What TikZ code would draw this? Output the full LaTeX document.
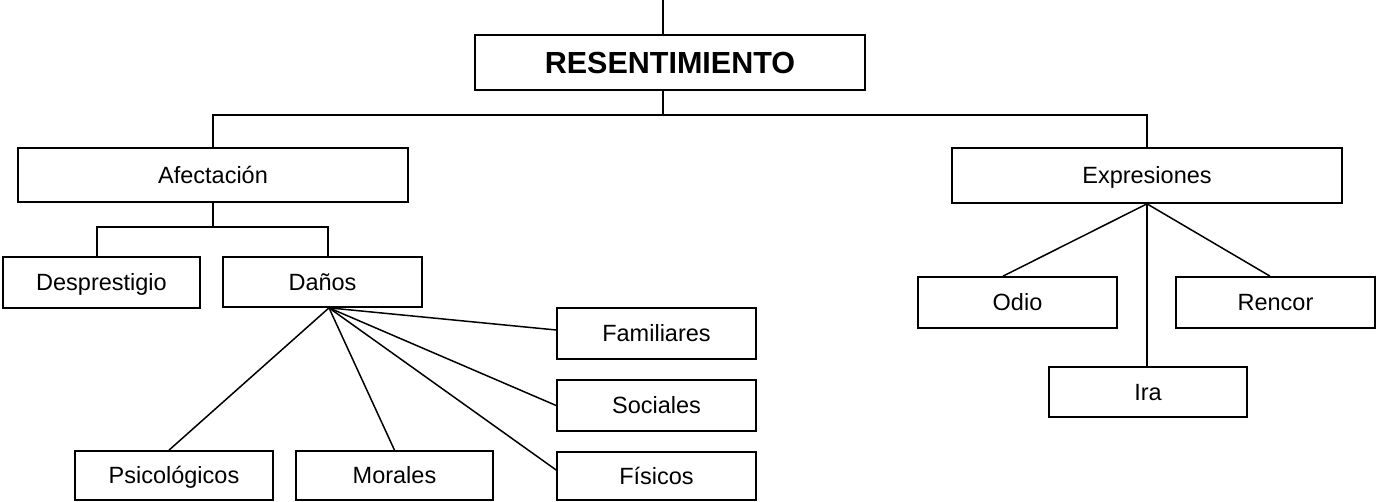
\documentclass[tikz,border=0pt]{standalone}
\usepackage{fontspec}
\setmainfont{Liberation Sans}
\begin{document}
\begin{tikzpicture}[x=1pt,y=-1pt,
  box/.style={draw,line width=1.7pt,inner sep=0pt,minimum width=#1,text height=16.8pt,text depth=0pt,font=\fontsize{23.5}{27}\selectfont},
  box/.default=198pt,
  ln/.style={line width=1.5pt}]
\useasboundingbox[fill=white] (0,0) rectangle (1377,502);
\node[box=390pt,minimum height=55pt,text height=21.8pt,font=\fontsize{30.5}{35}\selectfont\bfseries] (res) at (670,62.5) {RESENTIMIENTO};
\node[box=390pt,minimum height=54pt] (afe) at (213,175) {Afectación};
\node[box=390pt,minimum height=55pt] (exp) at (1147,175.5) {Expresiones};
\node[box=197pt,minimum height=51pt] (desp) at (101.5,282.5) {Desprestigio};
\node[box=199pt,minimum height=50pt] (danos) at (322.5,282) {Daños};
\node[box,minimum height=49pt] (psico) at (174,475.5) {Psicológicos};
\node[box=197pt,minimum height=49pt] (mor) at (394.5,475.5) {Morales};
\node[box=199pt,minimum height=51pt] (fam) at (656.5,333.5) {Familiares};
\node[box=199pt,minimum height=51pt] (soc) at (656.5,405.5) {Sociales};
\node[box=199pt,minimum height=48pt] (fis) at (656.5,476) {Físicos};
\node[box=199pt,minimum height=51pt] (odio) at (1017.5,302.5) {Odio};
\node[box=199pt,minimum height=51pt] (ren) at (1275.5,302.5) {Rencor};
\node[box,minimum height=50pt] (ira) at (1148,392) {Ira};
% connectors
\coordinate (top) at (663,0);
\coordinate (bus) at (663,115);
\coordinate (bus2) at (213,227);
\coordinate (dfan) at ([xshift=6.5pt]danos.south);
\draw[ln] (top) -- (top |- res.north);
\draw[ln] (res.south -| top) -- (bus);
\draw[ln] (afe.north) -- (afe.north |- bus) -- (exp.north |- bus) -- (exp.north);
\draw[ln] (afe.south) -- (bus2);
\draw[ln] ([xshift=-4.5pt]desp.north) |- (bus2) -| ([xshift=5.5pt]danos.north);
\draw[ln] (dfan) -- ([xshift=-5pt]psico.north);
\draw[ln] (dfan) -- (mor.north);
\draw[ln] (dfan) -- ([yshift=3.5pt]fam.west);
\draw[ln] (dfan) -- (soc.west);
\draw[ln] (dfan) -- ([yshift=6pt]fis.west);
\draw[ln] (exp.south) -- ([xshift=-14.5pt]odio.north);
\draw[ln] (exp.south) -- ([xshift=-5.5pt]ren.north);
\draw[ln] (exp.south) -- (exp.south |- ira.north);
\end{tikzpicture}
\end{document}
